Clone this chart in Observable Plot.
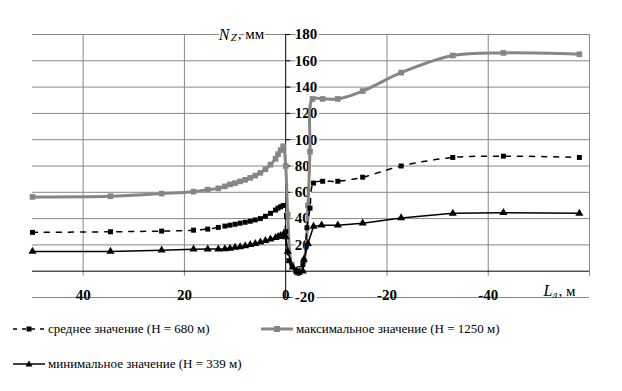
<!DOCTYPE html>
<html><head><meta charset="utf-8">
<script src="https://cdn.jsdelivr.net/npm/d3@7"></script>
<script src="https://cdn.jsdelivr.net/npm/@observablehq/plot@0.6"></script>
<style>
body{margin:0;background:#fff;}
#wrap{position:relative;width:622px;height:391px;font-family:'Liberation Serif','Times New Roman','DejaVu Serif',serif;background:#fff;overflow:hidden;}
#wrap svg.plot{position:absolute;left:0;top:0;}
#wrap svg text{font-family:'Liberation Serif','Times New Roman','DejaVu Serif',serif !important;}
.leg{position:absolute;display:flex;align-items:center;font-size:13px;color:#000;white-space:nowrap;line-height:16px;}
.leg svg{margin-right:3px;}
</style></head><body><div id="wrap"></div>
<script>
// ---- data ----
const xTicks = [40, 20, 0, -20, -40];
const xGrid = [40, 20, -20, -40, -60];
const yTicks = [-20, 0, 20, 40, 60, 80, 100, 120, 140, 160, 180];

const maxL = [50, 34.6, 24.5, 18.2, 15.4, 13.3, 12, 11, 10, 9, 8, 7, 6, 5, 4, 3, 2, 1.5, 1, 0.5, 0, -0.4, -1.2, -2.2, -3.6, -4.4, -4.8, -5.3, -7.3, -10.3, -15.2, -22.8, -33, -43, -58];
const maxN = [56.5, 57, 59, 60.5, 62, 63, 64.5, 66, 67, 68.3, 69.5, 71, 72.7, 74.8, 77.5, 81, 85.5, 89, 92, 95, 80, 43, 5, -1, 8, 50, 91, 131, 131, 131, 137, 151, 164, 166, 165];

const meanL = [50, 34.6, 24.5, 18.2, 15.4, 13.3, 12, 11, 10, 9, 8, 7, 6, 5, 4, 3, 2, 1.5, 1, 0.5, 0, -0.6, -2, -3.4, -4.2, -4.8, -5.5, -7.3, -10.3, -15.2, -22.8, -33, -43, -58];
const meanN = [29.5, 30, 30.5, 31.2, 32, 33.3, 34.3, 35, 35.7, 36.5, 37.2, 38, 39, 40, 41.8, 44, 46.5, 48, 49, 50, 30, 8, 0, 5, 33, 48, 67, 68.4, 68.4, 71.5, 80, 86.5, 87.5, 86.5];

const minL = [50, 34.6, 24.5, 18.2, 15.4, 13.3, 12, 11, 10, 9, 8, 7, 6, 5, 4, 3, 2, 1.5, 1, 0.5, 0, -0.4, -1.4, -2.6, -3.4, -3.6, -4.4, -5.5, -7.1, -10.3, -15.2, -22.8, -33, -43, -58];
const minN = [15, 15, 16, 16.7, 16.8, 16.8, 17, 17.4, 18, 18.5, 19.2, 20.2, 21, 22, 23.2, 24.3, 25.5, 26.3, 27, 27.5, 26, 15, 3, -1, 0, 9, 21, 34, 35, 35, 36.5, 40.5, 44, 44.5, 44];

const seriesNames = ["среднее значение (H = 680 м)", "максимальное значение (H = 1250 м)", "минимальное значение (H = 339 м)"];
const yTitle = ["N", "Z", ", мм"];
const xTitle = ["L", "л", ", м"];

// ---- build ----
const toRows = (L, N) => L.map((l, i) => ({L: l, N: N[i]}));
const maxRows = toRows(maxL, maxN);
const meanRows = toRows(meanL, meanN);
const minRows = toRows(minL, minN);

const GRAY = "#868686";
const FONT = "'Liberation Serif', 'Times New Roman', 'DejaVu Serif', serif";
const yTop = yTicks[yTicks.length - 1];
const xEnd = xGrid[xGrid.length - 1];

const plot = Plot.plot({
  width: 622, height: 310,
  marginLeft: 32, marginRight: 33, marginTop: 34, marginBottom: 13,
  x: {domain: [50, -60], axis: null},
  y: {domain: [-20, 180], axis: null},
  style: {fontFamily: FONT, background: "white", overflow: "visible"},
  marks: [
    Plot.ruleY(yTicks.filter(d => d !== 0), {stroke: GRAY, strokeWidth: 1}),
    Plot.ruleX(xGrid, {y1: yTop, y2: 0, insetBottom: -5, stroke: GRAY, strokeWidth: 1}),
    Plot.ruleY([0], {stroke: "#000", strokeWidth: 1}),
    Plot.ruleX([0], {y1: yTop, y2: -20, stroke: "#000", strokeWidth: 1}),
    Plot.ruleY(yTicks, {x1: 0, x2: 0, insetRight: -5, stroke: "#000"}),
    Plot.text(yTicks, {x: () => 0, y: d => d, dx: 9, textAnchor: "start", text: d => String(d),
      fontSize: 15, fontWeight: "bold", fill: "#000", stroke: "white", strokeWidth: 4}),
    Plot.text(xTicks, {x: d => d, y: () => 0, dy: 24, text: d => String(d),
      fontSize: 15, fontWeight: "bold", fill: "#000"}),
    // axis titles
    Plot.text([yTitle[0]], {x: () => 0, y: () => yTop, dx: -67, textAnchor: "start", text: d => d,
      fontSize: 16, fontStyle: "italic", fill: "#000", stroke: "white", strokeWidth: 4}),
    Plot.text([yTitle[1]], {x: () => 0, y: () => yTop, dx: -55, dy: 3, textAnchor: "start", text: d => d,
      fontSize: 11, fontStyle: "italic", fill: "#000", stroke: "white", strokeWidth: 4}),
    Plot.text([yTitle[2]], {x: () => 0, y: () => yTop, dx: -48, textAnchor: "start", text: d => d,
      fontSize: 15, fill: "#000", stroke: "white", strokeWidth: 4}),
    Plot.text([xTitle[0]], {x: () => xEnd, y: () => 0, dx: -46, dy: 20, textAnchor: "start", text: d => d,
      fontSize: 16, fontStyle: "italic", fill: "#000"}),
    Plot.text([xTitle[1]], {x: () => xEnd, y: () => 0, dx: -37, dy: 23, textAnchor: "start", text: d => d,
      fontSize: 11, fontStyle: "italic", fill: "#000"}),
    Plot.text([xTitle[2]], {x: () => xEnd, y: () => 0, dx: -31, dy: 20, textAnchor: "start", text: d => d,
      fontSize: 15, fill: "#000"}),
    // series
    Plot.line(maxRows, {x: "L", y: "N", stroke: GRAY, strokeWidth: 3, curve: "catmull-rom"}),
    Plot.dot(maxRows, {x: "L", y: "N", symbol: "square", r: 3.2, fill: GRAY, stroke: "none"}),
    Plot.line(minRows, {x: "L", y: "N", stroke: "#000", strokeWidth: 1.5, curve: "linear"}),
    Plot.dot(minRows, {x: "L", y: "N", symbol: "triangle", r: 3.0, fill: "#000", stroke: "none"}),
    Plot.line(meanRows, {x: "L", y: "N", stroke: "#000", strokeWidth: 1.5, strokeDasharray: "5,7", curve: "catmull-rom"}),
    Plot.dot(meanRows, {x: "L", y: "N", symbol: "square", r: 2.8, fill: "#000", stroke: "none"})
  ]
});
plot.classList.add("plot");
const wrap = document.getElementById("wrap");
wrap.appendChild(plot);

// ---- legend ----
function swatch(kind) {
  const ns = "http://www.w3.org/2000/svg";
  const s = document.createElementNS(ns, "svg");
  s.setAttribute("width", 32); s.setAttribute("height", 12);
  const line = document.createElementNS(ns, "line");
  line.setAttribute("x1", 0); line.setAttribute("x2", 32);
  line.setAttribute("y1", 6); line.setAttribute("y2", 6);
  let mk;
  if (kind === "mean") {
    line.setAttribute("stroke", "#000"); line.setAttribute("stroke-width", 1.5);
    line.setAttribute("stroke-dasharray", "4,5");
    mk = document.createElementNS(ns, "rect");
    mk.setAttribute("x", 13.5); mk.setAttribute("y", 3.5); mk.setAttribute("width", 5); mk.setAttribute("height", 5);
    mk.setAttribute("fill", "#000");
  } else if (kind === "max") {
    line.setAttribute("stroke", GRAY); line.setAttribute("stroke-width", 3);
    mk = document.createElementNS(ns, "rect");
    mk.setAttribute("x", 13); mk.setAttribute("y", 3); mk.setAttribute("width", 6); mk.setAttribute("height", 6);
    mk.setAttribute("fill", GRAY);
  } else {
    line.setAttribute("stroke", "#000"); line.setAttribute("stroke-width", 1.5);
    mk = document.createElementNS(ns, "path");
    mk.setAttribute("d", "M16,2.5L19.5,8.5L12.5,8.5Z");
    mk.setAttribute("fill", "#000");
  }
  s.appendChild(line); s.appendChild(mk);
  return s;
}
function legendItem(kind, text, left, top) {
  const d = document.createElement("div");
  d.className = "leg";
  d.style.left = left + "px"; d.style.top = top + "px";
  d.appendChild(swatch(kind));
  const t = document.createElement("span"); t.textContent = text;
  d.appendChild(t);
  wrap.appendChild(d);
}
legendItem("mean", seriesNames[0], 13, 321);
legendItem("max", seriesNames[1], 261, 321);
legendItem("min", seriesNames[2], 13, 356);
</script>
</body></html>
